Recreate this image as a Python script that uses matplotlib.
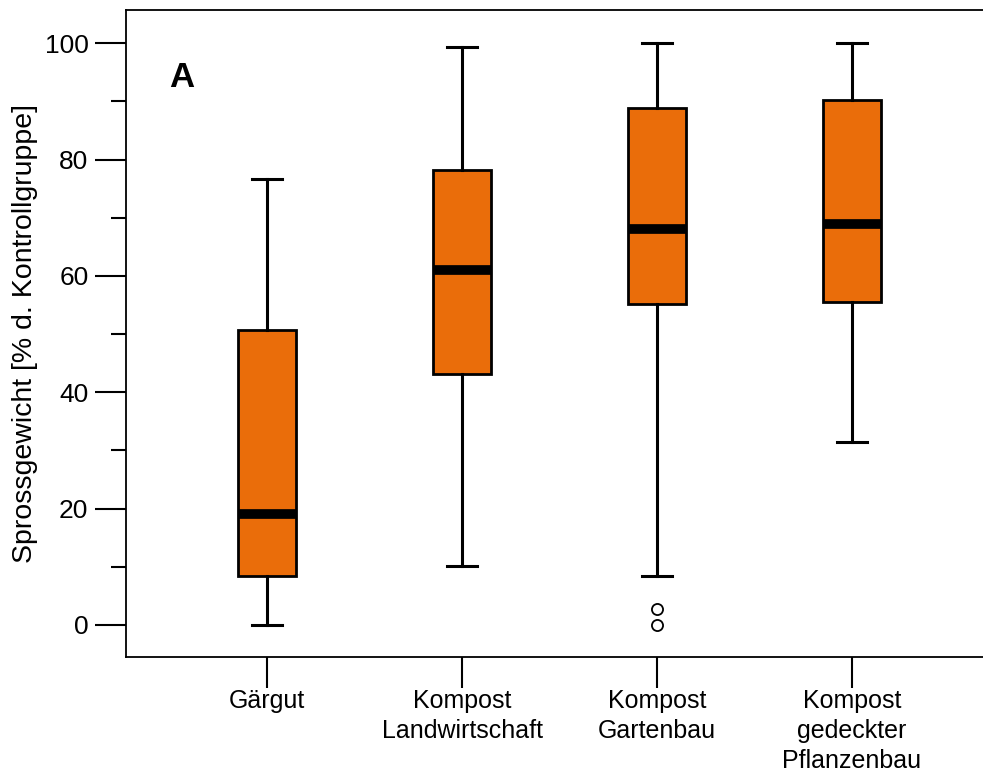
import numpy as np
import matplotlib.pyplot as plt

plt.rcParams['font.family'] = ['Liberation Sans', 'DejaVu Sans']

# Werte
kategorien = ['Gärgut', 'Kompost\nLandwirtschaft', 'Kompost\nGartenbau',
              'Kompost\ngedeckter\nPflanzenbau']
whisker_low = [0.0, 10.1, 8.4, 31.4]
q1 = [8.4, 43.1, 55.2, 55.5]
median = [19.1, 61.0, 68.0, 68.9]
q3 = [50.7, 78.2, 88.8, 90.2]
whisker_high = [76.6, 99.3, 100.0, 100.0]
ausreisser = [[], [], [2.7, 0.0], []]

stats = []
for i, name in enumerate(kategorien):
    stats.append(dict(label=name, whislo=whisker_low[i], q1=q1[i], med=median[i],
                      q3=q3[i], whishi=whisker_high[i], fliers=ausreisser[i]))

fig = plt.figure(figsize=(9.83, 7.74), dpi=100)
ax = fig.add_axes([126 / 983, 1 - 657 / 774, 1 - 126 / 983, (657 - 10) / 774])

pos = np.arange(1, len(kategorien) + 1)
ax.bxp(stats, positions=pos, widths=0.3, patch_artist=True,
       boxprops=dict(facecolor='#EA6D0A', edgecolor='black', linewidth=2),
       medianprops=dict(color='black', linewidth=7, solid_capstyle='butt'),
       whiskerprops=dict(color='black', linewidth=2.2),
       capprops=dict(color='black', linewidth=2.2),
       capwidths=0.155,
       flierprops=dict(marker='o', markerfacecolor='white', markeredgecolor='black',
                       markersize=8, markeredgewidth=1.3))

ax.set_xlim(1 - 141 / 195, 4 + 131 / 195)
ax.set_ylim(-5.5, 105.7)
ax.set_yticks([0, 20, 40, 60, 80, 100])
ax.set_yticks([10, 30, 50, 70, 90], minor=True)
ax.set_xticks(pos)
ax.set_xticklabels(kategorien, fontsize=18, linespacing=1.32)
ax.tick_params(axis='y', which='major', length=22, width=1.5, labelsize=19, pad=5)
ax.tick_params(axis='y', which='minor', length=11, width=1.5)
ax.tick_params(axis='x', length=22, width=1.5, pad=1)
ax.spines['right'].set_visible(False)
for s in ['left', 'bottom', 'top']:
    ax.spines[s].set_linewidth(1.3)

ax.set_ylabel('Sprossgewicht [% d. Kontrollgruppe]', fontsize=20.5, labelpad=5)
ax.text(0.065, 0.896, 'A', transform=ax.transAxes, fontsize=25, fontweight='bold',
        va='center', ha='center')

fig.savefig('out.png', dpi=100)
